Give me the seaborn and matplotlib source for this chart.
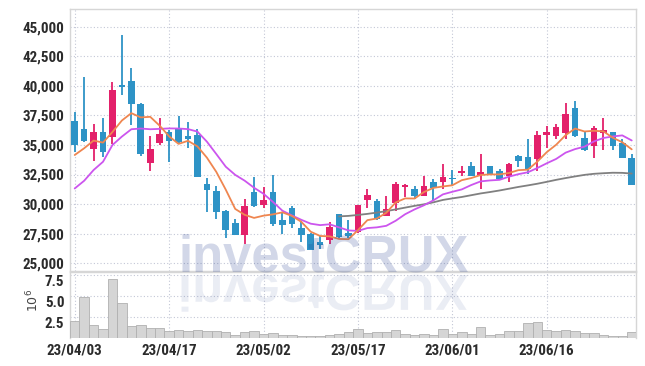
import matplotlib
matplotlib.use('Agg')

import numpy as np
import matplotlib.pyplot as plt
import seaborn as sns
from matplotlib.textpath import TextPath
from matplotlib.patches import PathPatch
from matplotlib.font_manager import FontProperties, fontManager
from matplotlib.transforms import Affine2D

# trading days (labels shown every 10 sessions)
dates = ['23/04/03', '23/04/04', '23/04/05', '23/04/06', '23/04/07', '23/04/10', '23/04/11', '23/04/12', '23/04/13', '23/04/14',
         '23/04/17', '23/04/18', '23/04/19', '23/04/20', '23/04/21', '23/04/24', '23/04/25', '23/04/26', '23/04/27', '23/04/28',
         '23/05/02', '23/05/03', '23/05/04', '23/05/08', '23/05/09', '23/05/10', '23/05/11', '23/05/12', '23/05/15', '23/05/16',
         '23/05/17', '23/05/18', '23/05/19', '23/05/22', '23/05/23', '23/05/24', '23/05/25', '23/05/26', '23/05/30', '23/05/31',
         '23/06/01', '23/06/02', '23/06/05', '23/06/07', '23/06/08', '23/06/09', '23/06/12', '23/06/13', '23/06/14', '23/06/15',
         '23/06/16', '23/06/19', '23/06/20', '23/06/21', '23/06/22', '23/06/23', '23/06/26', '23/06/27', '23/06/28', '23/06/29']

opens = [37040, 36360, 34690, 36100, 35710, 40070, 40440, 38480, 33500, 35200,
         36100, 36420, 35760, 35850, 31680, 31085, 29390, 28370, 27350, 31000,
         29900, 31000, 28620, 29640, 27940, 27430, 26750, 26980, 29130, 27575,
         27630, 30350, 30235, 28990, 30090, 31450, 31280, 30690, 31850, 31850,
         32220, 32640, 33200, 32440, 33240, 32820, 32340, 34090, 34000, 33835,
         35810, 35720, 35980, 38150, 35610, 34935, 36000, 36120, 35160, 33920]
closes = [35000, 35340, 36080, 34400, 39670, 39870, 38430, 34260, 34660, 35930,
          35370, 35250, 35540, 32310, 31170, 29330, 27770, 27350, 29810, 29870,
          30320, 28310, 28200, 28310, 27380, 26100, 26530, 28030, 27210, 27290,
          29900, 30745, 28760, 29610, 31680, 31620, 30660, 31510, 31400, 32270,
          32130, 32780, 32410, 32730, 32480, 32140, 33380, 33610, 32960, 35870,
          36120, 36540, 37640, 35780, 34600, 36460, 36290, 34935, 33860, 31580]
highs = [37750, 40750, 36810, 37270, 40300, 44320, 41515, 38540, 35740, 37320,
         36270, 37460, 36930, 36360, 32170, 31540, 29470, 28760, 30430, 32300,
         31450, 32470, 29245, 29810, 28570, 27550, 27320, 28480, 29190, 28680,
         29900, 31310, 30460, 30690, 31900, 31740, 31510, 32360, 32160, 33350,
         32870, 33240, 33520, 34200, 33260, 32960, 33470, 34170, 35500, 36150,
         36570, 36770, 38545, 38710, 36150, 36630, 37250, 36120, 35530, 34200]
lows = [34377, 35280, 33640, 34010, 35080, 39250, 36670, 34090, 32760, 35030,
        33580, 35200, 34720, 32300, 29330, 28710, 27150, 27350, 26640, 29750,
        29700, 28170, 27490, 27940, 26780, 26100, 26160, 26640, 27150, 27090,
        27580, 29700, 28620, 28990, 29390, 30600, 30460, 30690, 30380, 31310,
        31510, 32360, 32390, 31310, 32450, 32110, 31860, 33130, 32540, 32820,
        34740, 35500, 35500, 35670, 34460, 33890, 34540, 34540, 33860, 31580]

ma5 = [34150, 34720, 35370, 35200, 36100, 37070, 37690, 37330, 37380, 36630,
       35730, 35090, 35350, 34880, 33930, 32720, 31220, 29590, 29090, 28830,
       29020, 29130, 29300, 29000, 28500, 27660, 27300, 27270, 27050, 27030,
       27790, 28640, 28780, 29260, 30140, 30480, 30470, 31020, 31370, 31490,
       31590, 32020, 32200, 32460, 32510, 32510, 32630, 32870, 32910, 33590,
       34390, 35020, 35830, 36390, 36140, 36200, 36150, 35610, 35230, 34630]
ma10 = [31320, 31970, 32880, 33580, 35000, 35710, 36330, 36390, 36330, 36360,
        36400, 36390, 36340, 36130, 35280, 34230, 33160, 32470, 31980, 31380,
        30870, 30180, 29440, 29040, 28670, 28340, 28220, 28290, 28030, 27770,
        27730, 27970, 28030, 28160, 28590, 29140, 29550, 29900, 30320, 30820,
        31040, 31240, 31610, 31920, 32000, 32050, 32320, 32530, 32690, 33050,
        33450, 33820, 34350, 34650, 34860, 35300, 35590, 35720, 35810, 35380]
ma60 = [np.nan] * 28 + [
        28960, 29000, 29080, 29170, 29280, 29400, 29550, 29700, 29850, 29980,
        30150, 30350, 30480, 30600, 30750, 30900, 31020, 31150, 31300, 31450,
        31580, 31720, 31880, 32050, 32200, 32340, 32470, 32560, 32610, 32650,
        32640, 32580]

volume = [2.07, 4.88, 1.48, 1.09, 6.94, 4.13, 1.44, 1.56, 1.21, 1.21,
          0.78, 0.98, 0.86, 0.98, 0.86, 0.78, 0.74, 0.39, 0.74, 0.86,
          0.43, 0.62, 0.39, 0.39, 0.23, 0.23, 0.25, 0.40, 0.45, 0.70,
          1.09, 0.59, 0.66, 0.66, 0.98, 0.47, 0.31, 0.51, 0.39, 1.09,
          0.51, 0.66, 0.47, 1.33, 0.39, 0.47, 0.78, 0.78, 1.79, 1.95,
          0.90, 0.78, 0.98, 0.78, 0.55, 0.55, 0.39, 0.23, 0.23, 0.66]

UP = '#e3206a'
DOWN = '#2e93c6'
GRID = '#c3c7d6'
SPINE = '#d6d6d6'
TXT = '#2b2b2b'

# pick a narrow face if one is installed, otherwise Roboto
installed = {f.name for f in fontManager.ttflist}
narrow = [n for n in ['Liberation Sans Narrow', 'Roboto Condensed', 'Open Sans Condensed']
          if n in installed]
if narrow:
    TICKFONT, TICKSIZE = [narrow[0], 'DejaVu Sans'], 10.8
else:
    TICKFONT, TICKSIZE = ['Roboto', 'DejaVu Sans'], 10
TICKWEIGHT = 'bold'

sns.set_theme(style='white')
plt.rcParams['font.family'] = TICKFONT

fig = plt.figure(figsize=(6.45, 3.66), dpi=100)
ax = fig.add_axes([0.1085, 0.2596, 0.8775, 0.7158])
axv = fig.add_axes([0.1085, 0.0765, 0.8775, 0.179])

idx = np.arange(len(dates))
o = np.array(opens); c = np.array(closes)
cols = [UP if cc >= oo else DOWN for oo, cc in zip(o, c)]
body_lo = np.minimum(o, c)
body_h = np.maximum(np.abs(c - o), 70)

# candles
ax.vlines(idx, lows, highs, colors=cols, linewidth=1.3, zorder=3)
ax.bar(idx, body_h, bottom=body_lo, width=0.7, color=cols, linewidth=0, zorder=4)

# moving averages
sns.lineplot(x=idx, y=ma60, ax=ax, color='#808080', linewidth=1.3, zorder=5)
sns.lineplot(x=idx, y=ma10, ax=ax, color='#cc55ee', linewidth=1.3, zorder=5)
sns.lineplot(x=idx, y=ma5, ax=ax, color='#ef8650', linewidth=1.3, zorder=5)

# volume
sns.barplot(x=idx, y=volume, ax=axv, color='#d5d5d5', saturation=1, width=1.0,
            edgecolor='#b0b0b0', linewidth=0.6, zorder=3)

label_pos = idx[::10]
for a in (ax, axv):
    a.set_xlim(-0.5, 59.45)
    a.set_xticks(label_pos)
    a.grid(True, linestyle=(0, (1, 2)), color=GRID, linewidth=0.8, zorder=0)
    a.set_axisbelow(True)
    for s in a.spines.values():
        s.set_color(SPINE)
        s.set_linewidth(1)
    a.tick_params(length=0, pad=4, labelsize=TICKSIZE, labelcolor=TXT)
    a.set_xlabel('')
    a.set_ylabel('')

ax.set_ylim(24340, 46500)
yt = list(range(25000, 45001, 2500))
ax.set_yticks(yt)
ax.set_yticklabels([f'{v:,}' for v in yt], fontweight=TICKWEIGHT)
ax.set_xticklabels([])

axv.set_ylim(0, 7.75)
axv.set_yticks([2.5, 5.0, 7.5])
axv.set_yticklabels(['2.5', '5.0', '7.5'], fontweight=TICKWEIGHT, va='top')
axv.set_xticklabels([dates[i] for i in label_pos], fontweight=TICKWEIGHT)
axv.tick_params(axis='x', pad=4)
axv.spines['bottom'].set_visible(False)

fig.text(33 / 645, 1 - 300 / 366, r'$10^6$', rotation=90, ha='center', va='center',
         fontsize=9, color='#444444')

# watermark with mirrored reflection
wm_font = FontProperties(family='Liberation Sans', weight='bold')
fig.text(178 / 645, 94 / 366, 'investCRUX', fontproperties=wm_font, fontsize=36.5,
         color='#203a8c', alpha=0.2, ha='left', va='baseline', zorder=10)
tp = TextPath((0, 0), 'investCRUX', size=50.7, prop=wm_font)
refl = PathPatch(tp, transform=Affine2D().scale(1, -1).translate(178, 91),
                 facecolor='#203a8c', edgecolor='none', alpha=0.09, zorder=10)
fig.add_artist(refl)

fig.savefig('out.png', dpi=100)
